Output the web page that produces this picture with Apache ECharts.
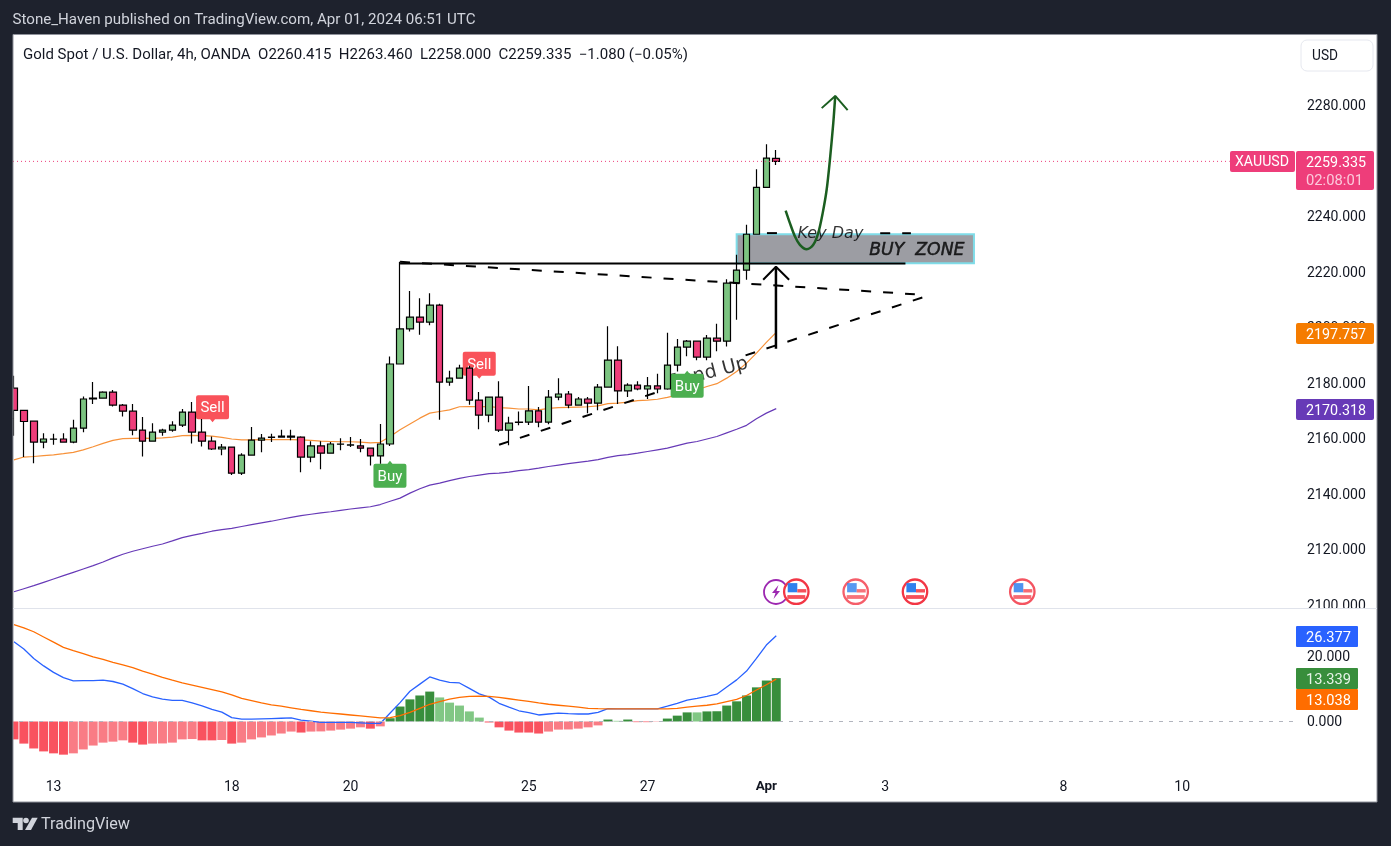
<!DOCTYPE html>
<html><head><meta charset="utf-8">
<style>html,body{margin:0;padding:0;background:#1e222d;overflow:hidden}#c{width:1391px;height:846px}</style>
<script src="https://cdn.jsdelivr.net/npm/echarts@6/dist/echarts.min.js"></script>
</head><body><div id="c"></div>
<script>
const opens=[2177.7,2169.7,2165.8,2158.3,2159.3,2159.4,2158.3,2163.3,2173.8,2174.1,
2176.3,2171.6,2169.4,2162.6,2158.6,2161.9,2162.6,2164.4,2169.1,2161.9,
2158.6,2155.8,2156.5,2147.1,2153.6,2159.0,2160.0,2160.1,2160.1,2160.1,
2152.9,2156.9,2154.3,2157.5,2157.2,2156.9,2156.1,2153.3,2157.6,2186.4,
2199.0,2203.3,2201.5,2207.6,2179.9,2181.3,2184.9,2173.4,2168.0,2174.5,
2162.6,2165.4,2165.5,2169.5,2165.5,2174.5,2175.6,2171.6,2173.8,2172.3,
2178.1,2187.8,2176.7,2178.8,2177.4,2178.5,2177.4,2186.0,2192.5,2194.6,
2188.9,2195.7,2194.6,2215.5,2220.2,2233.1,2250.0,2260.415];
const closes=[2169.7,2165.7,2158.3,2159.4,2159.4,2158.3,2163.3,2173.8,2174.1,2176.3,
2171.6,2169.4,2162.6,2158.6,2161.9,2162.6,2164.4,2169.1,2161.9,2158.6,
2155.8,2156.5,2147.1,2153.6,2159.0,2159.7,2160.1,2160.4,2160.4,2152.9,
2156.9,2154.3,2157.6,2157.6,2157.3,2156.1,2153.3,2157.6,2186.4,2199.0,
2203.3,2201.5,2207.6,2179.9,2181.3,2184.9,2173.4,2168.0,2174.5,2162.6,
2165.1,2165.5,2169.5,2165.5,2174.5,2175.6,2171.6,2173.8,2172.3,2178.1,
2187.8,2176.7,2178.8,2177.4,2178.5,2177.4,2186.0,2192.5,2194.6,2188.9,
2195.7,2194.6,2215.5,2220.2,2233.1,2250.0,2260.5,2259.335];
const lows=[2160.6,2152.9,2150.7,2156.1,2157.3,2158.3,2157.9,2161.8,2172.0,2174.0,
2171.1,2167.5,2160.7,2153.1,2158.4,2160.6,2162.0,2163.7,2157.8,2156.7,
2155.4,2153.5,2146.4,2146.4,2153.5,2154.6,2158.3,2160.1,2158.9,2147.4,
2151.0,2148.5,2154.3,2155.3,2156.5,2154.6,2149.9,2150.5,2156.9,2186.4,
2198.1,2196.9,2200.3,2166.3,2178.6,2181.1,2171.7,2162.9,2165.4,2161.9,
2157.1,2164.3,2164.4,2163.6,2164.7,2173.3,2170.5,2171.4,2168.7,2169.7,
2177.8,2172.0,2174.5,2176.9,2173.8,2175.9,2177.1,2183.7,2189.2,2187.7,
2187.7,2191.0,2192.7,2202.3,2216.7,2233.1,2250.0,2258.0];
const highs=[2182.2,2169.7,2165.8,2161.5,2161.3,2161.5,2166.3,2174.7,2179.9,2176.6,
2177.0,2172.0,2172.0,2167.3,2165.1,2163.1,2165.8,2170.2,2172.7,2166.6,
2160.3,2157.6,2156.5,2154.3,2163.7,2161.2,2161.3,2162.7,2162.7,2160.4,
2158.6,2158.6,2158.3,2159.7,2160.1,2159.4,2156.1,2164.8,2189.1,2223.2,
2212.7,2210.1,2211.9,2208.1,2184.0,2186.1,2185.8,2176.3,2174.5,2180.2,
2167.4,2169.3,2178.5,2170.9,2177.0,2181.3,2176.7,2174.5,2174.5,2179.2,
2200.0,2192.8,2179.5,2180.2,2181.7,2182.9,2197.6,2195.4,2195.0,2194.6,
2196.8,2200.9,2216.9,2225.7,2236.5,2256.5,2265.5,2263.46];
const emaFast=[2151.9,2152.9,2153.1,2153.4,2153.7,2154.1,2154.6,2155.5,2156.6,2157.8,
2158.9,2159.5,2159.6,2159.7,2159.6,2159.8,2160.1,2160.6,2160.7,2160.6,
2160.4,2160.0,2159.4,2159.1,2159.1,2159.2,2159.2,2159.2,2159.2,2159.1,
2158.9,2158.6,2158.5,2158.4,2158.4,2158.3,2158.0,2158.2,2160.3,2162.7,
2164.8,2166.9,2168.7,2169.3,2169.9,2171.0,2171.1,2171.0,2171.1,2170.7,
2170.5,2170.2,2170.2,2169.9,2170.4,2170.7,2170.8,2170.9,2171.0,2171.3,
2172.1,2172.3,2172.7,2173.2,2173.4,2173.7,2174.4,2175.2,2175.9,2177.1,
2178.3,2179.3,2181.3,2183.7,2186.7,2190.3,2194.2,2197.757];
const emaSlow=[2104.4,2105.5,2106.6,2107.8,2109.0,2110.2,2111.4,2112.6,2113.8,2115.1,
2116.6,2117.9,2119.0,2119.9,2120.8,2121.6,2122.7,2123.9,2124.7,2125.4,
2126.2,2126.8,2127.2,2127.9,2128.6,2129.2,2129.8,2130.5,2131.2,2131.8,
2132.3,2132.8,2133.2,2133.7,2134.2,2134.6,2135.0,2135.8,2137.0,2138.1,
2139.9,2141.5,2142.8,2143.5,2144.4,2145.2,2145.9,2146.4,2146.9,2147.1,
2147.5,2148.0,2148.4,2148.9,2149.5,2150.0,2150.5,2151.0,2151.4,2152.0,
2152.8,2153.4,2153.8,2154.3,2154.9,2155.5,2156.1,2157.0,2157.9,2158.5,
2159.4,2160.3,2161.6,2162.9,2164.3,2166.7,2168.7,2170.318];
const macdLine=[24.5,22.3,19.4,17.1,15.1,13.5,12.5,12.6,12.6,12.7,
12.3,11.5,10.1,8.6,7.6,6.9,6.5,6.5,5.7,4.8,
3.7,2.9,1.2,0.7,0.7,0.8,0.9,1.0,1.1,0.4,
0.1,-0.3,-0.3,-0.3,-0.3,-0.4,-0.6,-0.6,2.6,5.8,
9.3,11.5,13.7,12.7,12.05,11.85,10.2,8.5,7.5,5.6,
4.4,3.3,2.7,2.0,2.3,2.6,2.4,2.3,2.3,2.8,
3.95,3.9,3.9,3.9,3.9,3.9,4.7,5.6,6.6,7.1,
7.7,8.4,10.6,12.8,15.5,19.4,23.5,26.377];
const signalLine=[29.8,28.8,27.6,26.0,24.4,22.8,21.8,20.9,19.9,19.1,
18.2,17.4,16.6,15.5,14.6,13.6,12.7,11.9,11.2,10.5,
9.8,9.1,8.2,7.1,6.4,5.7,5.1,4.7,4.2,3.7,
3.3,2.9,2.6,2.3,2.0,1.7,1.4,1.1,1.2,1.8,
2.8,4.05,5.3,6.1,6.9,7.4,7.7,7.8,7.7,7.4,
7.0,6.6,6.2,5.7,5.3,5.0,4.7,4.4,4.05,3.95,
3.9,3.9,3.9,3.9,3.9,3.9,3.9,4.05,4.4,4.7,
5.0,5.4,6.1,6.8,8.0,9.7,11.3,13.038];
const histogram=[-5.5,-6.8,-8.3,-9.2,-9.8,-10.2,-9.8,-8.6,-7.4,-6.5,
-6.2,-5.8,-6.5,-7.1,-6.8,-6.75,-6.5,-5.5,-5.4,-5.8,
-5.8,-5.7,-6.8,-6.5,-5.5,-4.9,-4.3,-3.7,-3.1,-3.4,
-3.1,-3.05,-2.8,-2.5,-2.2,-1.8,-2.2,-1.5,1.0,4.6,
6.8,8.0,9.2,7.4,5.8,4.9,3.1,1.2,-0.3,-1.8,
-2.8,-3.4,-3.4,-3.7,-3.1,-2.5,-2.45,-2.2,-1.8,-1.2,
0.6,0.2,0.6,-0.2,-0.2,-0.1,0.9,1.8,2.8,2.8,
3.1,3.15,4.9,6.2,8.0,10.5,12.6,13.339];
const priceTicks=[2100,2120,2140,2160,2180,2200,2220,2240,2260,2280];
const macdTicks=[0,20];
const dayTickIndex=[4,22,34,52,64,76,88,106,118];
const dayTickText=['13','18','20','25','27','Apr','3','8','10'];
const barCount=130;
const categories=Array.from({length:barCount},(_,i)=>{const k=dayTickIndex.indexOf(i);return k<0?'':dayTickText[k];});
// drawings, in [bar index, price]
const lastPrice=2259.335;
const priceLine=[[-0.5,lastPrice],[122.8,lastPrice]];
const solidLevel=[[39,2222.55],[90.05,2222.55]];
const topDashed=[[39,2223.2],[91,2211.5]];
const lowDashedA=[[49,2157.3],[65.1,2176.4]];
const lowDashedB=[[73.9,2189.5],[91.9,2210.5]];
const keyDayLeft=[[76.06,2233.5],[78,2233.5]];
const keyDayRight=[[87.5,2233.5],[90.6,2233.5]];
const arrowShaft=[[76.97,2191.9],[76.97,2221.4]];
const arrowHead=[[75.68,2216.7],[76.97,2221.4],[78.3,2216.7]];
const curve=[[77.95,2241.6],[78.38,2237.1],[78.89,2232.3],[79.39,2229.3],[80.07,2227.7],[80.74,2229.3],[81.24,2233.5],[81.69,2240.7],[82.09,2249.1],[82.42,2259.9],[82.76,2273.1],[82.96,2282.9]];
const curveHead=[[81.59,2278.5],[82.96,2282.9],[84.21,2277.8]];
const buyZone=[[73.0,2233.1,96.97,2222.7]];
const drawnTexts=[
 {at:[82.47,2233.3],text:'Key Day',size:16,style:'italic',rotate:0,border:0},
 {at:[91.2,2227.35],text:'BUY  ZONE',size:17.3,style:'italic',rotate:0,border:0.5},
 {at:[70.0,2182.9],text:'Trend Up',size:19,style:'normal',rotate:14.4,border:0}];
const tags=[
 {at:[20.06,2170.3],text:'Sell',kind:'sell'},
 {at:[47.0,2185.9],text:'Sell',kind:'sell'},
 {at:[37.98,2146.7],text:'Buy',kind:'buy'},
 {at:[68.0,2179.1],text:'Buy',kind:'buy'}];
const headerTop='Stone_Haven published on TradingView.com, Apr 01, 2024 06:51 UTC';
const headerChart='Gold Spot / U.S. Dollar, 4h, OANDA  O2260.415  H2263.460  L2258.000  C2259.335  \u22121.080 (\u22120.05%)';

const F='Roboto, sans-serif';
const mctx=document.createElement('canvas').getContext('2d');
function txt(s,x,y,size,color,width,extra){
  mctx.font=size+'px Roboto';
  const w=mctx.measureText(s).width;
  return Object.assign({type:'text',x:x,y:y+1,scaleX:width?width/w:1,z:60,silent:true,
    style:{text:s,x:0,y:0,font:size+'px '+F,fill:color,verticalAlign:'middle',align:'left'}},extra||{});
}
function rect(x,y,w,h,fill,r,stroke,z){
  return {type:'rect',z:z||55,silent:true,shape:{x:x,y:y,width:w,height:h,r:r||0},style:{fill:fill,stroke:stroke||null,lineWidth:stroke?1:0}};
}
function flag(cx,cy,op){
  return {type:'group',z:50,silent:true,children:[
    {type:'circle',z:50,shape:{cx:cx,cy:cy,r:12.2},style:{fill:'#fff',stroke:'#f23645',lineWidth:2.3,opacity:op}},
    {type:'rect',z:51,shape:{x:cx-8.6,y:cy-8.6,width:9.6,height:9.2},style:{fill:'#2f80ed',opacity:op}},
    {type:'rect',z:51,shape:{x:cx+1,y:cy-2.6,width:9,height:3.4},style:{fill:'#f5505a',opacity:op}},
    {type:'rect',z:51,shape:{x:cx-9,y:cy+3.4,width:18,height:3.8},style:{fill:'#f5505a',opacity:op}}
  ]};
}
const chrome=[
  rect(0,0,13,846,'#1e222d',0,null,40),
  rect(0,0,1391,34,'#1e222d',0,null,40),
  rect(1377,0,14,846,'#1e222d',0,null,40),
  rect(0,802,1391,44,'#1e222d',0,null,40),
  {type:'polyline',z:41,silent:true,shape:{points:[[13,802],[13,34.5],[1377,34.5],[1377,802],[13,802]]},style:{fill:null,stroke:'#8f929b',lineWidth:1}},
  rect(1298,608,78,5,'#fff',0,null,40),
  {type:'line',z:41,silent:true,shape:{x1:13,y1:608.5,x2:1377,y2:608.5},style:{stroke:'#e0e3eb',lineWidth:1}},
  txt(headerTop,12.5,19,14,'#d1d4dc',463),
  txt(headerChart,23,54,14,'#131722',665),
  rect(1301,40,72,31,'#fff',6,'#e6e8ef'),
  txt('USD',1312,55,14,'#131722',26),
  rect(1230,151,65,21,'#ee3d7a',2),
  txt('XAUUSD',1235,161.5,14,'#fff',54),
  rect(1296,151,78,39,'#ee3d7a',2),
  txt('2259.335',1306,162,14,'#fff',60),
  txt('02:08:01',1306,180,14,'#fbc9db',57),
  rect(1296,323,78,21,'#f57c00',2),
  txt('2197.757',1306,334,14,'#fff',60),
  rect(1296,399,78,21,'#673ab7',2),
  txt('2170.318',1306,410,14,'#fff',60),
  rect(1296,626,62,21,'#2962ff',1),
  txt('26.377',1306,637,14,'#fff',45),
  rect(1296,668,62,21,'#388e3c',1),
  txt('13.339',1306,679,14,'#e6f3e7',45),
  rect(1296,689,62,21,'#ff6d00',1),
  txt('13.038',1306,700,14,'#fff',45),
  {type:'circle',z:49,silent:true,shape:{cx:776,cy:592,r:12},style:{fill:'#fff',stroke:'#9c27b0',lineWidth:1.8}},
  {type:'polygon',z:49,silent:true,shape:{points:[[778.5,585],[772,593],[775.5,593],[773.5,599],[780,591],[776.5,591]]},style:{fill:'#9c27b0'}},
  flag(796.3,591.7,1),flag(855.7,591.7,.8),flag(915,591.7,1),flag(1022.3,591.7,.85),
  {type:'polygon',z:60,silent:true,shape:{points:[[12.7,817.7],[22.7,817.7],[22.7,830],[17.7,830],[17.7,823],[12.7,823]]},style:{fill:'#d1d4dc'}},
  {type:'circle',z:60,silent:true,shape:{cx:26,cy:820.5,r:2.8},style:{fill:'#d1d4dc'}},
  {type:'polygon',z:60,silent:true,shape:{points:[[32,817.7],[37.7,817.7],[31,830],[25,830]]},style:{fill:'#d1d4dc'}},
  txt('TradingView',41,824,16,'#d1d4dc',89)
];
const dash=(d,color,w,type)=>({type:'line',xAxisIndex:2,yAxisIndex:0,data:d,showSymbol:false,silent:true,z:4,
   lineStyle:{color:color||'#000',width:w||2,type:type||[10,12]}});
const chart=echarts.init(document.getElementById('c'),null,{renderer:'canvas'});
chart.setOption({
  animation:false,
  backgroundColor:'#ffffff',
  textStyle:{fontFamily:F},
  grid:[{left:9,width:1287,top:36,height:572},{left:9,width:1287,top:609,height:165}],
  xAxis:[
    {type:'category',gridIndex:0,data:categories,boundaryGap:true,axisLine:{show:false},axisTick:{show:false},axisLabel:{show:false},splitLine:{show:false}},
    {type:'category',gridIndex:1,data:categories,boundaryGap:true,axisLine:{show:false},axisTick:{show:false},splitLine:{show:false},
     axisLabel:{show:true,margin:6,interval:(i,v)=>v!=='',fontSize:14,color:'#131722',fontFamily:F,
       formatter:v=>v==='Apr'?'{b|Apr}':v,rich:{b:{fontWeight:'bold',fontSize:13.5,color:'#131722',fontFamily:F}}}},
    {type:'value',gridIndex:0,position:'top',min:-0.5,max:barCount-0.5,show:false,splitLine:{show:false}}
  ],
  yAxis:[
    {type:'value',gridIndex:0,position:'right',min:2098.56,max:2304.46,scale:true,axisLine:{show:false},axisTick:{show:false},splitLine:{show:false},
     axisLabel:{show:true,customValues:priceTicks,margin:11,align:'left',formatter:v=>'{a|'+v.toFixed(3)+'}',
       rich:{a:{padding:[5,0,0,0],fontSize:14,color:'#131722',fontFamily:F}}}},
    {type:'value',gridIndex:1,position:'right',min:-16.15,max:34.6,scale:true,axisLine:{show:false},axisTick:{show:false},splitLine:{show:false},
     axisLabel:{show:true,customValues:macdTicks,margin:11,align:'left',formatter:v=>'{a|'+v.toFixed(3)+'}',
       rich:{a:{padding:[3,0,0,0],fontSize:14,color:'#131722',fontFamily:F}}}}
  ],
  series:[
    {type:'custom',xAxisIndex:2,yAxisIndex:0,z:1,silent:true,data:buyZone,encode:{x:[0,2],y:[1,3]},clip:false,
     renderItem:(p,api)=>{const a=api.coord([api.value(0),api.value(1)]),b=api.coord([api.value(2),api.value(3)]);
       return {type:'rect',shape:{x:a[0],y:a[1],width:b[0]-a[0],height:b[1]-a[1]},style:{fill:'#9c9da3',stroke:'#7fdce8',lineWidth:2}};}},
    {type:'line',xAxisIndex:0,yAxisIndex:0,data:emaFast,showSymbol:false,silent:true,z:1,lineStyle:{color:'#f7923a',width:1.2}},
    {type:'line',xAxisIndex:0,yAxisIndex:0,data:emaSlow,showSymbol:false,silent:true,z:1,lineStyle:{color:'#673ab7',width:1.2}},
    dash(priceLine,'#ee3d7a',1,[1,3]),
    {type:'scatter',xAxisIndex:2,yAxisIndex:0,z:2,silent:true,
     data:tags.map(t=>({value:t.at,
       symbol:t.kind==='sell'?'path://M2 0H31Q33 0 33 2V22Q33 24 31 24H19L16.5 27L14 24H2Q0 24 0 22V2Q0 0 2 0Z':'path://M2 3H14L16.5 0L19 3H31Q33 3 33 5V25Q33 27 31 27H2Q0 27 0 25V5Q0 3 2 3Z',
       symbolSize:[33,27],itemStyle:{color:t.kind==='sell'?'#f9525a':'#4caf50',opacity:1},
       label:{show:true,position:'inside',formatter:t.text,color:'#fff',fontSize:15,fontFamily:F,offset:[0,t.kind==='sell'?-0.5:2.5]}}))},
    {type:'candlestick',xAxisIndex:0,yAxisIndex:0,z:3,silent:true,barWidth:7,
     data:opens.map((o,i)=>[o,closes[i],lows[i],highs[i]]),
     itemStyle:{color:'#7cc481',color0:'#ee3d7a',borderColor:'#000',borderColor0:'#000',borderWidth:1.2}},
    dash(solidLevel,'#000',2,'solid'),
    dash(topDashed),dash(lowDashedA),dash(lowDashedB),dash(keyDayLeft),dash(keyDayRight),
    dash(arrowShaft,'#000',2.5,'solid'),dash(arrowHead,'#000',2,'solid'),
    Object.assign(dash(curve,'#1b5e20',2.5,'solid'),{smooth:0.3,z:5}),
    Object.assign(dash(curveHead,'#1b5e20',2,'solid'),{z:5}),
    {type:'scatter',xAxisIndex:2,yAxisIndex:0,z:1.5,silent:true,symbolSize:1,itemStyle:{color:'transparent'},
     data:drawnTexts.map(t=>({value:t.at,label:{show:true,position:'inside',formatter:t.text,rotate:t.rotate,color:'#000',fontSize:t.size,fontStyle:t.style,fontFamily:'DejaVu Sans',textBorderColor:t.border?'#000':'transparent',textBorderWidth:t.border}}))},
    {type:'bar',xAxisIndex:1,yAxisIndex:1,barWidth:9,silent:true,z:2,
     data:histogram.map((v,i)=>{const prev=i?histogram[i-1]:v;
       const col=v>=0?(v>prev?'#388e3c':'#81c784'):(v>prev?'#f97c85':'#f9525f');
       return {value:v,itemStyle:{color:col}};}),
     markLine:{silent:true,symbol:'none',animation:false,data:[{yAxis:0}],label:{show:false},lineStyle:{color:'#b2b5be',type:[4,6],width:1}}},
    {type:'line',xAxisIndex:1,yAxisIndex:1,data:macdLine,showSymbol:false,silent:true,z:3,lineStyle:{color:'#2962ff',width:1.3}},
    {type:'line',xAxisIndex:1,yAxisIndex:1,data:signalLine,showSymbol:false,silent:true,z:3,lineStyle:{color:'#ff6d00',width:1.3}}
  ],
  graphic:{elements:chrome}
});
</script></body></html>
